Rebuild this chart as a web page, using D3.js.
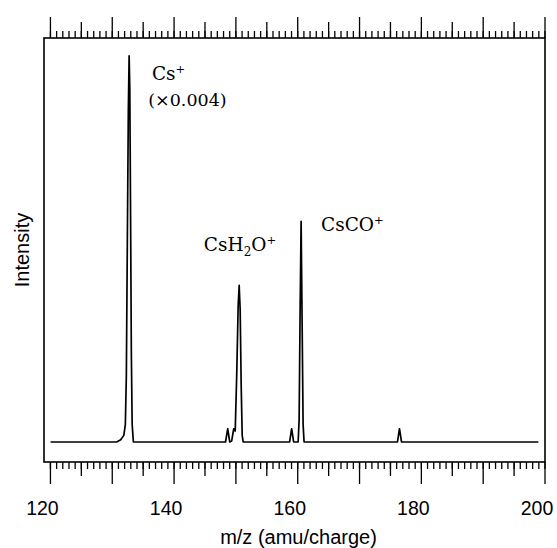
<!DOCTYPE html>
<html>
<head>
<meta charset="utf-8">
<script src="https://cdn.jsdelivr.net/npm/d3@7"></script>
<style>
  html, body { margin: 0; padding: 0; background: #fff; }
  svg { display: block; }
</style>
</head>
<body>
<svg id="chart" width="557" height="548"></svg>
<script>
// ---- data ----
// spectrum sample points: m/z and relative intensity (Cs+ shown ×0.004)
const mz = [
  120.1,
  130.8, 131.45, 131.95, 132.2, 132.36, 132.52, 132.68, 132.81, 132.92, 133.05, 133.17, 133.3, 133.5,
  148.4, 148.76, 149.08, 149.4, 149.73, 149.97, 150.21, 150.45, 150.61, 150.77, 150.94, 151.1, 151.26,
  158.77, 159.1, 159.42,
  160.15, 160.31, 160.47, 160.63, 160.79, 160.95, 161.11,
  176.22, 176.54, 176.87,
  199.0
];
const intensity = [
  0,
  0, 0.01, 0.03, 0.08, 0.3, 0.9, 1.5, 1.75, 1.6, 1.0, 0.4, 0.08, 0,
  0, 0.06, 0, 0.005, 0.06, 0.05, 0.3, 0.62, 0.71, 0.6, 0.25, 0.03, 0,
  0, 0.06, 0,
  0, 0.1, 0.6, 1.0, 0.55, 0.08, 0,
  0, 0.06, 0,
  0
];
const xTickLabels = [120, 140, 160, 180, 200];
const peakLabels = ["Cs", "CsH2O", "CsCO"];
const peakLabelMz = [136.5, 144.9, 163.85];
const peakLabelY = [1.641, 0.866, 0.956];
const noteMz = 135.9, noteY = 1.523;
const xTitle = "m/z (amu/charge)";
const yTitle = "Intensity";
const scaleNote = "(×0.004)";

// ---- layout ----
const svg = d3.select("#chart");
const pLeft = 44, pRight = 545, pTop = 38, pBottom = 462;

const x = d3.scaleLinear().domain([119.04, 200.08]).range([pLeft, pRight]);
const y = d3.scaleLinear().domain([-0.0907, 1.831]).range([pBottom, pTop]);

// ---- ticks ----
const minorVals = d3.range(120, 201, 1);
const midVals = d3.range(125, 201, 10);
const majorVals = d3.range(120, 201, 10);

function drawAxis(gen, ty, vals, size, labels) {
  const g = svg.append("g")
    .attr("transform", `translate(0,${ty})`)
    .call(gen(x).tickValues(vals).tickSize(size).tickSizeOuter(0)
      .tickFormat(d => labels && xTickLabels.includes(d) ? d : ""));
  g.select(".domain").remove();
  g.selectAll(".tick line").attr("stroke", "#000").attr("stroke-width", 1.3);
  g.selectAll(".tick text")
    .attr("font-family", "Liberation Sans, Arial, sans-serif")
    .attr("font-size", 19.5).attr("fill", "#000");
  return g;
}
drawAxis(d3.axisBottom, pBottom, minorVals, 7, false);
drawAxis(d3.axisBottom, pBottom, midVals, 14, false);
const bx = drawAxis(d3.axisBottom, pBottom, majorVals, 22, true);
bx.selectAll(".tick text").attr("y", 0).attr("dy", null)
  .attr("transform", "translate(-8,53)");

drawAxis(d3.axisTop, pTop, minorVals, 7, false);
drawAxis(d3.axisTop, pTop, midVals, 16, false);
drawAxis(d3.axisTop, pTop, majorVals, 21, false);

// ---- frame ----
svg.append("rect")
  .attr("x", pLeft).attr("y", pTop)
  .attr("width", pRight - pLeft).attr("height", pBottom - pTop)
  .attr("fill", "none").attr("stroke", "#000").attr("stroke-width", 1.6);

// ---- spectrum ----
const pts = mz.map((m, i) => [m, intensity[i]]);
svg.append("path")
  .datum(pts)
  .attr("fill", "none")
  .attr("stroke", "#000")
  .attr("stroke-width", 1.7)
  .attr("stroke-linejoin", "round")
  .attr("d", d3.line().x(d => x(d[0])).y(d => y(d[1])));

// ---- peak labels ----
const serif = "DejaVu Serif, serif";
function ionLabel(name, i) {
  const t = svg.append("text")
    .attr("x", x(peakLabelMz[i])).attr("y", y(peakLabelY[i]))
    .attr("font-family", serif).attr("font-size", 18.5).attr("fill", "#000");
  if (name === "CsH2O") {
    t.append("tspan").text("CsH");
    t.append("tspan").text("2").attr("font-size", 12).attr("dy", 5);
    t.append("tspan").text("O").attr("dy", -5);
  } else {
    t.append("tspan").text(name);
  }
  t.append("tspan").text("+").attr("font-size", 11.5).attr("dy", -7);
}
peakLabels.forEach(ionLabel);

svg.append("text")
  .attr("x", x(noteMz)).attr("y", y(noteY))
  .attr("font-family", serif).attr("font-size", 17.5).attr("fill", "#000")
  .text(scaleNote);

// ---- axis titles ----
svg.append("text")
  .attr("x", (pLeft + pRight) / 2 + 4).attr("y", 544)
  .attr("text-anchor", "middle")
  .attr("font-family", "Liberation Sans, Arial, sans-serif")
  .attr("font-size", 20).attr("fill", "#000")
  .text(xTitle);

svg.append("text")
  .attr("transform", `translate(29,${(pTop + pBottom) / 2}) rotate(-90)`)
  .attr("text-anchor", "middle")
  .attr("font-family", "Liberation Sans, Arial, sans-serif")
  .attr("font-size", 20).attr("fill", "#000")
  .text(yTitle);
</script>
</body>
</html>
